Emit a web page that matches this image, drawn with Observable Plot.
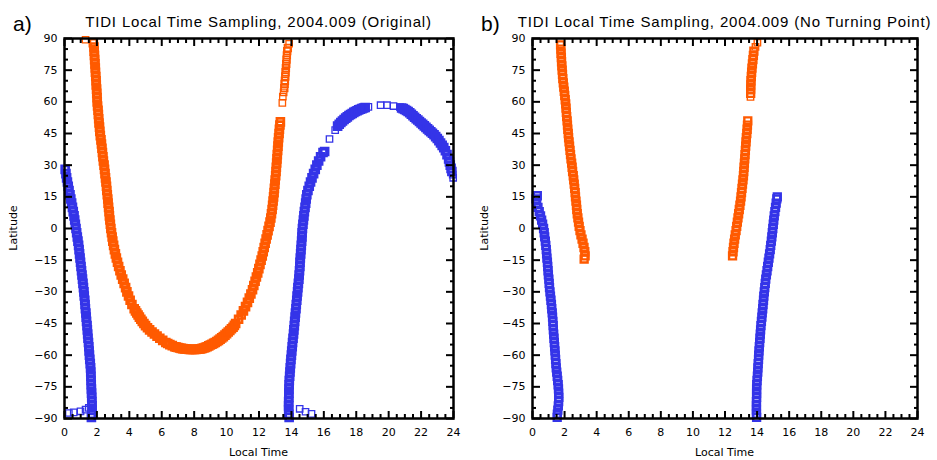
<!DOCTYPE html>
<html>
<head>
<meta charset="utf-8">
<script src="https://cdn.jsdelivr.net/npm/d3@7"></script>
<script src="https://cdn.jsdelivr.net/npm/@observablehq/plot@0.6"></script>
<style>
  html, body { margin: 0; padding: 0; background: white; }
  #wrap { position: relative; width: 937px; height: 460px; background: white; overflow: hidden; }
  .panel { position: absolute; top: 0; }
  .title { position: absolute; top: 14px; font-family: "Liberation Sans", Arial, sans-serif; font-size: 15px; line-height: 15px; letter-spacing: 0.85px; white-space: nowrap; transform: translateX(-50%); color: #000; }
  .tag { position: absolute; top: 13px; font-family: "Liberation Sans", Arial, sans-serif; font-size: 21px; line-height: 21px; color: #000; }
  .xlab { position: absolute; top: 447px; font-family: "DejaVu Sans", sans-serif; font-size: 11px; line-height: 11px; transform: translateX(-50%); white-space: nowrap; color: #000; }
  .ylab { position: absolute; font-family: "DejaVu Sans", sans-serif; font-size: 11px; line-height: 11px; white-space: nowrap; color: #000; transform: translate(-50%, -50%) rotate(-90deg); }
</style>
</head>
<body>
<div id="wrap"></div>
<script>
// ---------- data (Local Time [h], Latitude [deg]) ----------
const titles = ["TIDI Local Time Sampling, 2004.009 (Original)", "TIDI Local Time Sampling, 2004.009 (No Turning Point)"];
const tags = ["a)", "b)"];
const xTicks = [0, 2, 4, 6, 8, 10, 12, 14, 16, 18, 20, 22, 24];
const yTicks = [-90, -75, -60, -45, -30, -15, 0, 15, 30, 45, 60, 75, 90];

// Panel a, orange: dense track
const aOrange = [
  [1.78,88],[1.82,86],[1.83,84],[1.85,82],[1.86,80],[1.88,78],[1.90,76],[1.91,74],[1.93,72],[1.95,70],[1.96,68],[1.98,66],[1.99,64],[2.01,62],[2.02,60],[2.04,58],[2.07,56],[2.09,54],[2.11,52],[2.13,50],[2.16,48],[2.18,46],[2.21,44],[2.25,42],[2.28,40],[2.31,38],[2.34,36],[2.37,34],[2.40,32],[2.44,30],[2.47,28],[2.50,26],[2.53,24],[2.56,22],[2.59,20],[2.61,18],[2.64,16],[2.67,14],[2.69,12],[2.72,10],[2.75,8],[2.77,6],[2.80,4],[2.83,2],[2.86,0],[2.90,-2],[2.94,-4],[2.98,-6],[3.03,-8],[3.08,-10],[3.14,-12],[3.20,-14],[3.27,-16],[3.34,-18],[3.42,-20],[3.50,-22],[3.59,-24],[3.68,-26],[3.77,-28],[3.85,-30],[3.95,-32],[4.05,-34],[4.16,-36],[4.30,-38],[4.38,-39],[4.46,-40],[4.54,-41],[4.62,-42],[4.71,-43],[4.80,-44],[4.90,-45],[5.00,-46],[5.12,-47],[5.25,-48],[5.40,-49],[5.55,-50],[5.71,-51],[5.88,-52],[6.06,-53],[6.25,-54],[6.37,-54.5],[6.50,-55],[6.65,-55.5],
  [6.8,-56.0],[6.9,-56.2],[7.0,-56.4],[7.1,-56.6],[7.2,-56.8],[7.3,-56.9],[7.4,-57.0],[7.5,-57.1],[7.6,-57.2],[7.7,-57.25],[7.8,-57.3],[7.9,-57.3],[8.0,-57.3],[8.1,-57.25],[8.2,-57.2],[8.3,-57.1],[8.4,-57.0],[8.5,-56.8],[8.6,-56.6],[8.7,-56.3],[8.8,-56.0],[8.9,-55.6],[9.0,-55.2],[9.1,-54.8],[9.2,-54.4],[9.3,-54.0],[9.4,-53.5],[9.5,-53.0],[9.6,-52.4],[9.7,-51.8],[9.8,-51.2],[9.9,-50.5],[10.0,-49.8],[10.1,-49.0],[10.2,-48.3],[10.3,-47.5],[10.4,-46.8],[10.48,-45.9],
  [10.56,-45],[10.74,-43],[10.90,-41],[11.04,-39],[11.17,-37],[11.29,-35],[11.40,-33],[11.50,-31],[11.60,-29],[11.68,-27],[11.76,-25],[11.84,-23],[11.92,-21],[11.99,-19],[12.06,-17],[12.13,-15],[12.20,-13],[12.26,-11],[12.32,-9],[12.38,-7],[12.44,-5],[12.50,-3],[12.56,-1],[12.62,1],[12.68,3],[12.73,5],[12.77,7],[12.81,9],[12.84,11],[12.87,13],[12.90,15],[12.93,17],[12.95,19],[12.98,21],[13.00,23],[13.03,25],[13.05,27],[13.07,29],[13.09,31],[13.11,33],[13.13,35],[13.15,37],[13.17,39],[13.19,41],[13.21,43],[13.24,45],[13.26,47],[13.29,49],[13.32,50.5]
];
// Panel a, orange: thinner chain and isolated samples
const aOrangeChain = [
  [13.56,66.5],[13.58,68.5],[13.60,70],[13.62,72],[13.64,74],[13.66,76],[13.68,78],[13.70,80],[13.72,82],[13.74,84],[13.78,85.5]
];
const aOrangeSparse = [[1.30,89.4],[13.44,59.5],[13.47,62.5],[13.52,64.5],[13.86,87.5]];

// Panel a, blue: dense tracks
const aBlue = [
  [0.04,28],[0.09,26],[0.13,24],[0.18,22],[0.23,20],[0.28,18],[0.34,16],[0.39,14],[0.44,12],[0.49,10],[0.54,8],[0.59,6],[0.63,4],[0.67,2],[0.71,0],[0.75,-2],[0.79,-4],[0.83,-6],[0.87,-8],[0.90,-10],[0.93,-12],[0.96,-14],[0.99,-16],[1.02,-18],[1.05,-20],[1.08,-22],[1.11,-24],[1.14,-26],[1.17,-28],[1.20,-30],[1.22,-32],[1.25,-34],[1.27,-36],[1.29,-38],[1.32,-40],[1.34,-42],[1.36,-44],[1.39,-46],[1.41,-48],[1.43,-50],[1.45,-52],[1.48,-54],[1.50,-56],[1.52,-58],[1.54,-60],[1.56,-62],[1.59,-64],[1.61,-66],[1.62,-68],[1.63,-70],[1.64,-72],[1.65,-74],[1.66,-76],[1.67,-78],[1.68,-80],[1.69,-82],[1.70,-84],[1.70,-86],[1.69,-88],[1.66,-89.5],
  [13.86,-89.5],[13.84,-88],[13.83,-86],[13.83,-84],[13.83,-82],[13.84,-80],[13.84,-78],[13.85,-76],[13.86,-74],[13.87,-72],[13.89,-70],[13.91,-68],[13.93,-66],[13.95,-64],[13.97,-62],[14.00,-60],[14.02,-58],[14.05,-56],[14.07,-54],[14.10,-52],[14.13,-50],[14.15,-48],[14.18,-46],[14.20,-44],[14.23,-42],[14.25,-40],[14.28,-38],[14.30,-36],[14.33,-34],[14.35,-32],[14.38,-30],[14.40,-28],[14.43,-26],[14.46,-24],[14.48,-22],[14.50,-20],[14.52,-18],[14.53,-16],[14.55,-14],[14.57,-12],[14.59,-10],[14.61,-8],[14.63,-6],[14.65,-4],[14.66,-2],[14.68,0],[14.71,2],[14.74,4],[14.77,6],[14.80,8],[14.84,10],[14.88,12],[14.91,14],[14.95,16],[15.02,18],[15.10,20],[15.18,22],[15.27,24],[15.37,26],[15.47,28],[15.57,30],[15.68,32],[15.80,34],[15.95,36],[16.05,36.5],
  [16.85,48.5],[16.95,49.4],[17.05,50.2],[17.15,50.9],[17.25,51.6],[17.35,52.3],[17.45,52.9],[17.55,53.5],[17.65,54.0],[17.75,54.5],[17.85,55.0],[17.95,55.4],[18.05,55.8],[18.15,56.2],[18.25,56.5],[18.35,56.8],[18.45,57.1],[18.55,57.3],
  [20.80,57.1],[20.90,56.8],[21.00,56.4],[21.10,55.9],[21.20,55.4],[21.30,54.8],[21.40,54.1],[21.50,53.4],[21.60,52.7],[21.70,52.0],[21.80,51.4],[21.90,50.7],[22.00,50.0],[22.10,49.3],[22.20,48.6],[22.30,47.9],[22.40,47.2],[22.50,46.5],[22.60,45.8],[22.70,45.1],[22.80,44.4],[22.90,43.5],[23.00,42.6],[23.10,41.6],[23.20,40.5],[23.30,39.4],[23.40,38.3],[23.50,36.8],[23.60,35.0],[23.70,33.0],[23.75,31.5],[23.80,30.0],[23.85,28.5],[23.90,27.0]
];
// Panel a, blue: isolated samples
const aBlueSparse = [
  [0.27,-87.4],[0.57,-87.1],[0.99,-86.6],[1.30,-85.8],[1.50,-85.0],
  [14.51,-85.4],[14.87,-86.8],[15.24,-87.8],
  [16.35,42.4],[16.70,46.6],[18.75,57.6],
  [19.5,58.4],[19.9,58.4],[20.3,58.0],[20.7,57.5],
  [23.95,25.5],[23.98,24.0]
];

// Panel b, orange samples
const bOrange = [
  [1.75,87],[1.77,85],[1.78,83],[1.80,81],[1.81,79],[1.83,77],[1.85,75],[1.87,73],[1.89,71],[1.92,69],[1.95,67],[1.98,65],[2.01,63],[2.04,61],[2.07,59],[2.09,57],[2.11,55],[2.13,53],[2.16,51],[2.18,49],[2.20,47],[2.23,45],[2.25,43],[2.28,41],[2.31,39],[2.34,37],[2.37,35],[2.40,33],[2.44,31],[2.47,29],[2.50,27],[2.54,25],[2.57,23],[2.60,21],[2.63,19],[2.66,17],[2.68,15],[2.71,13],[2.74,11],[2.76,9],[2.79,7],[2.83,5],[2.87,3],[2.91,1],[2.96,-1],[3.02,-3],[3.09,-5],[3.15,-7],[3.21,-9],[3.26,-11],[3.28,-13],[3.22,-14.5],
  [13.80,84],[13.77,82],[13.74,80],[13.71,78],[13.68,76],[13.66,74],[13.64,72],[13.62,70],[13.61,68],[13.60,66],[13.60,64],
  [13.42,51],[13.40,49],[13.38,47],[13.36,45],[13.33,43],[13.31,41],[13.29,39],[13.27,37],[13.25,35],[13.23,33],[13.21,31],[13.19,29],[13.17,27],[13.15,25],[13.12,23],[13.09,21],[13.06,19],[13.03,17],[13.00,15],[12.97,13],[12.93,11],[12.89,9],[12.85,7],[12.81,5],[12.77,3],[12.73,1],[12.69,-1],[12.64,-3],[12.60,-5],[12.56,-7],[12.53,-9],[12.50,-11],[12.47,-13]
];
const bOrangeSparse = [[14.02,88],[13.90,86],[13.59,62.3]];

// Panel b, blue samples
const bBlue = [
  [0.30,15.5],[0.22,14],[0.26,12],[0.34,10],[0.42,8],[0.50,6],[0.57,4],[0.63,2],[0.69,0],[0.73,-2],[0.76,-4],[0.80,-6],[0.83,-8],[0.86,-10],[0.88,-12],[0.90,-14],[0.93,-16],[0.95,-18],[0.97,-20],[0.99,-22],[1.02,-24],[1.04,-26],[1.06,-28],[1.09,-30],[1.12,-32],[1.15,-34],[1.18,-36],[1.20,-38],[1.23,-40],[1.25,-42],[1.27,-44],[1.29,-46],[1.30,-48],[1.32,-50],[1.34,-52],[1.36,-54],[1.38,-56],[1.40,-58],[1.42,-60],[1.44,-62],[1.46,-64],[1.48,-66],[1.51,-68],[1.54,-70],[1.57,-72],[1.60,-74],[1.62,-76],[1.63,-78],[1.64,-80],[1.63,-82],[1.61,-84],[1.58,-86],[1.55,-88],[1.54,-89.5],
  [13.97,-89.5],[13.96,-88],[13.96,-86],[13.96,-84],[13.96,-82],[13.97,-80],[13.97,-78],[13.97,-76],[13.98,-74],[14.00,-72],[14.02,-70],[14.04,-68],[14.05,-66],[14.07,-64],[14.09,-62],[14.10,-60],[14.12,-58],[14.14,-56],[14.16,-54],[14.18,-52],[14.20,-50],[14.22,-48],[14.24,-46],[14.27,-44],[14.30,-42],[14.32,-40],[14.35,-38],[14.37,-36],[14.40,-34],[14.42,-32],[14.45,-30],[14.48,-28],[14.51,-26],[14.54,-24],[14.58,-22],[14.62,-20],[14.66,-18],[14.70,-16],[14.74,-14],[14.78,-12],[14.82,-10],[14.85,-8],[14.89,-6],[14.92,-4],[14.95,-2],[14.98,0],[15.01,2],[15.04,4],[15.07,6],[15.11,8],[15.15,10],[15.19,12],[15.23,14],[15.26,15]
];
const bBlueSparse = [];

// ---------- styling ----------
const ORANGE = "#ff5a00";
const BLUE = "#3434e8";
const minorX = d3.range(0, 24.001, 0.5).filter(v => v % 2 !== 0);
const minorY = d3.range(-90, 90.001, 5).filter(v => v % 15 !== 0);
const fmt = d => d < 0 ? "\u2212" + (-d) : String(d);
const blank = () => "";

function panel(layers, width, ml, mr) {
  const obj = p => ({lt: p[0], lat: p[1]});
  const dotMarks = layers.map(([pts, color, sw, r]) =>
    Plot.dot(pts.map(obj), {x: "lt", y: "lat", symbol: "square", r, fill: "none", stroke: color, strokeWidth: sw}));
  const tickMarks = [];
  for (const anchor of ["top", "bottom"]) {
    tickMarks.push(Plot.axisX(xTicks, {anchor, tickSize: -7, tickFormat: blank, label: null, strokeWidth: 2}));
    tickMarks.push(Plot.axisX(minorX, {anchor, tickSize: -4, tickFormat: blank, label: null, strokeWidth: 2}));
  }
  for (const anchor of ["left", "right"]) {
    tickMarks.push(Plot.axisY(yTicks, {anchor, tickSize: -8, tickFormat: blank, label: null, strokeWidth: 2}));
    tickMarks.push(Plot.axisY(minorY, {anchor, tickSize: -4, tickFormat: blank, label: null, strokeWidth: 2}));
  }
  return Plot.plot({
    width, height: 460,
    marginLeft: ml, marginRight: mr, marginTop: 38, marginBottom: 42,
    x: {domain: [0, 24]},
    y: {domain: [-90, 90]},
    style: {fontFamily: "'DejaVu Sans', sans-serif", fontSize: "11px", color: "black", background: "white", overflow: "visible"},
    marks: [
      ...dotMarks,
      Plot.frame({stroke: "black", strokeWidth: 2.5}),
      ...tickMarks,
      Plot.axisX(xTicks, {anchor: "bottom", tickSize: 0, tickPadding: 10, tickFormat: fmt, label: null, fill: "black"}),
      Plot.axisY(yTicks, {anchor: "left", tickSize: 0, tickPadding: 7, tickFormat: fmt, label: null, fill: "black"})
    ]
  });
}

const wrap = document.getElementById("wrap");
const layouts = [
  {left: 0, width: 468, ml: 64, mr: 15, tagX: 13, yLabX: 13,
   layers: [[aOrange, ORANGE, 2.7, 3.9], [aOrangeChain, ORANGE, 1.8, 3.7], [aOrangeSparse, ORANGE, 1.3, 3.6],
            [aBlue, BLUE, 2.7, 3.9], [aBlueSparse, BLUE, 1.3, 3.6]]},
  {left: 468, width: 469, ml: 64, mr: 20, tagX: 481, yLabX: 484,
   layers: [[bOrange, ORANGE, 2.4, 3.9], [bOrangeSparse, ORANGE, 1.4, 3.6],
            [bBlue, BLUE, 2.4, 3.9], [bBlueSparse, BLUE, 1.3, 3.6]]}
];
layouts.forEach((L, i) => {
  const div = document.createElement("div");
  div.className = "panel";
  div.style.left = L.left + "px";
  div.appendChild(panel(L.layers, L.width, L.ml, L.mr));
  wrap.appendChild(div);
  const cx = L.left + L.ml + (L.width - L.ml - L.mr) / 2;
  const t = document.createElement("div");
  t.className = "title"; t.textContent = titles[i]; t.style.left = cx + "px";
  wrap.appendChild(t);
  const g = document.createElement("div");
  g.className = "tag"; g.textContent = tags[i]; g.style.left = L.tagX + "px";
  wrap.appendChild(g);
  const xl = document.createElement("div");
  xl.className = "xlab"; xl.textContent = "Local Time"; xl.style.left = cx + "px";
  wrap.appendChild(xl);
  const yl = document.createElement("div");
  yl.className = "ylab"; yl.textContent = "Latitude"; yl.style.left = L.yLabX + "px"; yl.style.top = "228px";
  wrap.appendChild(yl);
});
</script>
</body>
</html>
